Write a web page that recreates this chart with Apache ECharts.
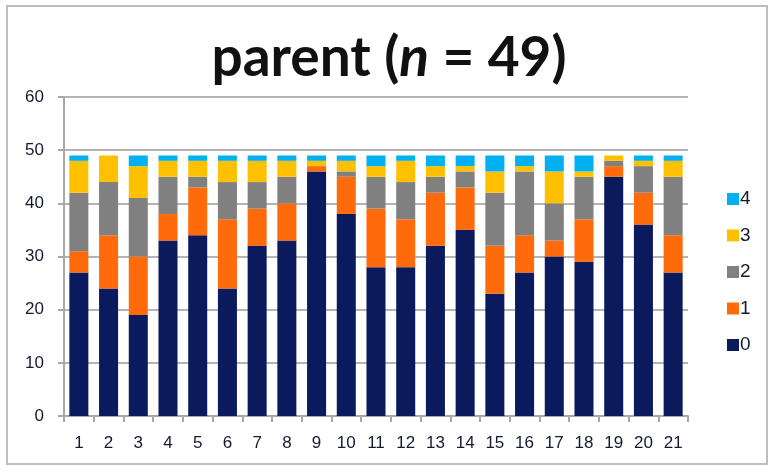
<!DOCTYPE html>
<html>
<head>
<meta charset="utf-8">
<script src="https://cdn.jsdelivr.net/npm/echarts@6/dist/echarts.min.js"></script>
<style>
  html, body { margin: 0; padding: 0; background: #fff; }
  #frame {
    position: absolute; left: 6px; top: 5px; width: 762px; height: 460px;
    border: 2px solid #bdbdbd; box-sizing: border-box;
  }
  #chart { position: absolute; left: 0; top: 0; width: 778px; height: 476px; }
</style>
</head>
<body>
<div id="frame"></div>
<div id="chart"></div>
<script>
// categories (x axis)
var categories = ['1', '2', '3', '4', '5', '6', '7', '8', '9', '10', '11',
  '12', '13', '14', '15', '16', '17', '18', '19', '20', '21']

// counts per score, stacked to 49
var score0 = [27, 24, 19, 33, 34, 24, 32, 33, 46, 38, 28, 28, 32, 35, 23, 27, 30, 29, 45, 36, 27]
var score1 = [4, 10, 11, 5, 9, 13, 7, 7, 1, 7, 11, 9, 10, 8, 9, 7, 3, 8, 2, 6, 7]
var score2 = [11, 10, 11, 7, 2, 7, 5, 5, 0, 1, 6, 7, 3, 3, 10, 12, 7, 8, 1, 5, 11]
var score3 = [6, 5, 6, 3, 3, 4, 4, 3, 1, 2, 2, 4, 2, 1, 4, 1, 6, 1, 1, 1, 3]
var score4 = [1, 0, 2, 1, 1, 1, 1, 1, 1, 1, 2, 1, 2, 2, 3, 2, 3, 3, 0, 1, 1]

var seriesNames = ['0', '1', '2', '3', '4']
var colors = ['#0b1a5c', '#ff6a0a', '#808080', '#ffc000', '#00b0f0']

var chart = echarts.init(document.getElementById('chart'))

function makeSeries(name, data, idx) {
  return {
    name: name,
    type: 'bar',
    stack: 'total',
    barCategoryGap: '36%',
    itemStyle: { color: colors[idx] },
    data: data,
    animation: false
  }
}

chart.setOption({
  animation: false,
  title: {
    text: '{a|parent (}{b|n}{a| = 49)}',
    left: 'center',
    top: 26,
    textStyle: {
      rich: {
        a: { fontFamily: 'Lato', fontWeight: 'bold', fontSize: 55, color: '#111' },
        b: { fontFamily: 'Lato', fontWeight: 'bold', fontStyle: 'italic', fontSize: 55, color: '#111' }
      }
    }
  },
  grid: {
    left: 64,
    right: 90,
    top: 97,
    bottom: 60
  },
  legend: {
    orient: 'vertical',
    left: 722,
    top: 184,
    data: ['4', '3', '2', '1', '0'],
    itemWidth: 12,
    itemHeight: 12,
    itemGap: 16.5,
    itemStyle: { borderWidth: 0 },
    icon: 'rect',
    textStyle: {
      fontFamily: 'Liberation Sans',
      fontSize: 19,
      lineHeight: 20,
      color: '#141a30',
      padding: [0, 0, 0, -4]
    }
  },
  xAxis: {
    type: 'category',
    data: categories,
    axisLine: { lineStyle: { color: '#a8a8a8', width: 2 } },
    axisTick: { show: true, alignWithLabel: false, length: 6, lineStyle: { color: '#a8a8a8', width: 2 } },
    axisLabel: {
      margin: 19,
      fontFamily: 'Liberation Sans',
      fontSize: 17,
      color: '#141a30'
    }
  },
  yAxis: {
    type: 'value',
    min: 0,
    max: 60,
    interval: 10,
    axisLine: { show: true, lineStyle: { color: '#a8a8a8', width: 2 } },
    axisTick: { show: true, length: 6, lineStyle: { color: '#a8a8a8', width: 2 } },
    splitLine: { lineStyle: { color: '#b4b4b4', width: 2 } },
    axisLabel: {
      margin: 20,
      fontFamily: 'Liberation Sans',
      fontSize: 17,
      color: '#141a30'
    }
  },
  series: [
    makeSeries(seriesNames[0], score0, 0),
    makeSeries(seriesNames[1], score1, 1),
    makeSeries(seriesNames[2], score2, 2),
    makeSeries(seriesNames[3], score3, 3),
    makeSeries(seriesNames[4], score4, 4)
  ]
})
</script>
</body>
</html>
